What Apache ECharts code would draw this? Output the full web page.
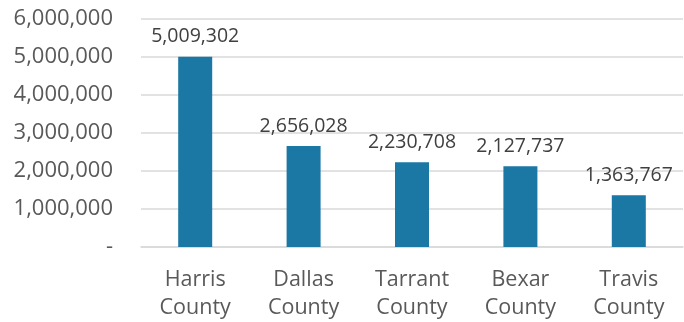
<!DOCTYPE html>
<html>
<head>
<meta charset="utf-8">
<script src="https://cdn.jsdelivr.net/npm/echarts@6/dist/echarts.min.js"></script>
<style>
  html, body { margin: 0; padding: 0; background: #fff; }
  #main { width: 684px; height: 322px; }
</style>
</head>
<body>
<div id="main"></div>
<script>
  var counties = ["Harris\nCounty", "Dallas\nCounty", "Tarrant\nCounty", "Bexar\nCounty", "Travis\nCounty"];
  var population = [5009302, 2656028, 2230708, 2127737, 1363767];

  var fmt = function (v) {
    return v === 0 ? "-" : v.toLocaleString("en-US");
  };

  var chart = echarts.init(document.getElementById("main"));
  chart.setOption({
    animation: false,
    grid: { left: 141, right: 1, top: 19, bottom: 72, containLabel: false },
    xAxis: {
      type: "category",
      data: counties,
      axisTick: { show: false },
      axisLine: { lineStyle: { color: "#d9d9d9", width: 1.5 } },
      axisLabel: {
        color: "#595959",
        fontFamily: "Open Sans",
        fontSize: 21.5,
        lineHeight: 28,
        margin: 19
      }
    },
    yAxis: {
      type: "value",
      min: 0,
      max: 6000000,
      interval: 1000000,
      axisLine: { show: false },
      axisTick: { show: false },
      splitLine: { lineStyle: { color: "#d9d9d9", width: 1.5 } },
      axisLabel: {
        color: "#595959",
        fontFamily: "Open Sans",
        fontSize: 22,
        margin: 28,
        formatter: fmt
      }
    },
    series: [{
      type: "bar",
      data: population,
      barWidth: 34,
      itemStyle: { color: "#1b77a4" },
      label: {
        show: true,
        position: "top",
        distance: 10,
        color: "#404040",
        fontFamily: "Open Sans",
        fontSize: 19.5,
        formatter: function (p) { return fmt(p.value); }
      }
    }]
  });
</script>
</body>
</html>
